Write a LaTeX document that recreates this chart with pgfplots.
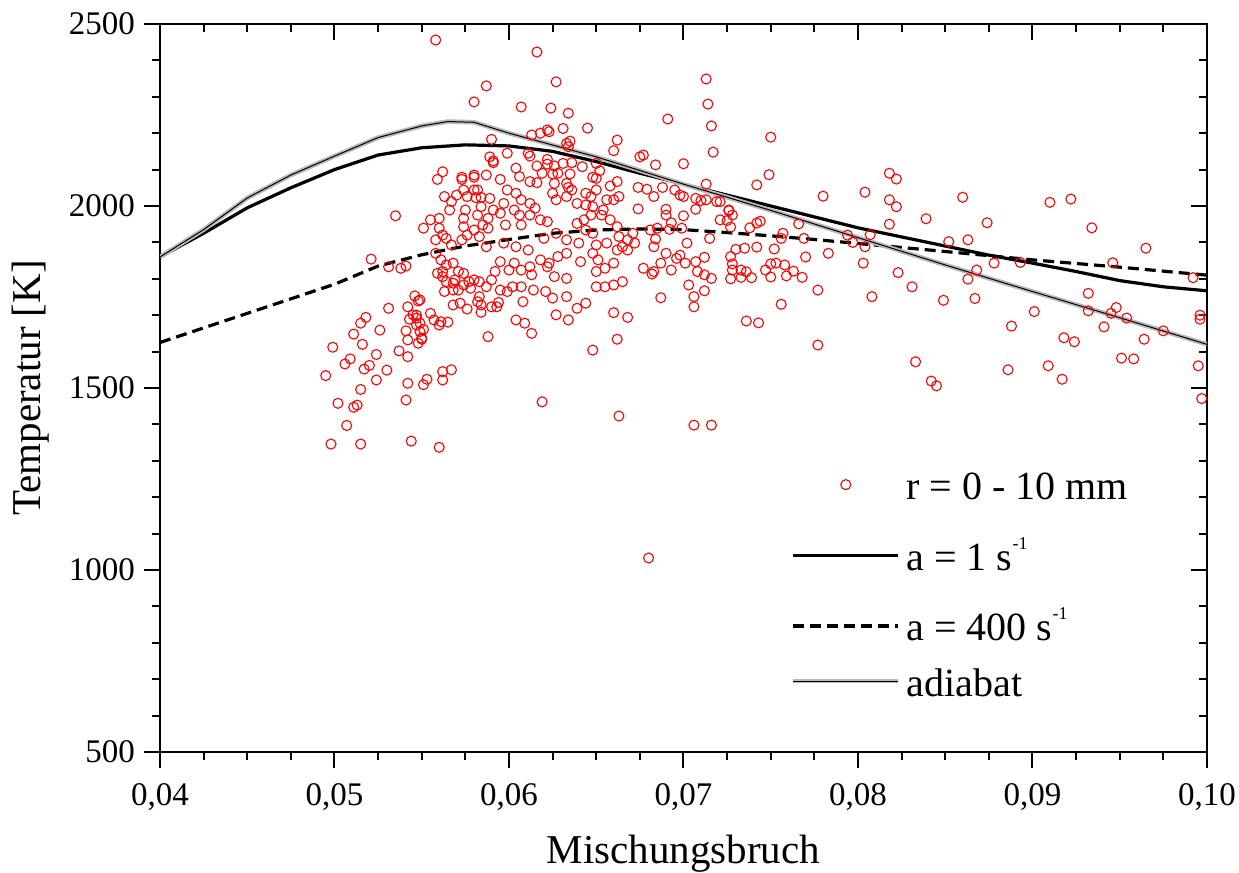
\documentclass[border=0pt]{standalone}
\usepackage{fontspec}
\setmainfont{Liberation Serif}
\usepackage{pgfplots}
\pgfplotsset{compat=1.18}
\pgfplotstableread{
x T
0.0558 2456
0.0616 2423
0.0627 2341
0.0587 2330
0.0713 2349
0.0714 2280
0.0580 2286
0.0624 2269
0.0607 2272
0.0634 2255
0.0716 2220
0.0691 2239
0.0645 2214
0.0750 2189
0.0622 2209
0.0618 2200
0.0613 2195
0.0631 2213
0.0623 2204
0.0662 2181
0.0590 2183
0.0717 2148
0.0635 2178
0.0675 2135
0.0677 2140
0.0700 2116
0.0684 2113
0.0749 2086
0.0742 2058
0.0713 2060
0.0660 2152
0.0633 2172
0.0634 2163
0.0599 2145
0.0611 2145
0.0612 2137
0.0589 2135
0.0591 2119
0.0591 2124
0.0580 2085
0.0580 2079
0.0573 2079
0.0573 2073
0.0562 2094
0.0559 2073
0.0587 2085
0.0595 2073
0.0604 2104
0.0606 2081
0.0616 2110
0.0622 2128
0.0622 2115
0.0626 2110
0.0631 2117
0.0636 2119
0.0642 2108
0.0650 2117
0.0652 2097
0.0648 2079
0.0650 2076
0.0619 2090
0.0625 2088
0.0628 2090
0.0635 2088
0.0612 2067
0.0616 2064
0.0626 2062
0.0633 2062
0.0636 2044
0.0634 2051
0.0644 2035
0.0650 2044
0.0647 2026
0.0658 2055
0.0662 2067
0.0660 2017
0.0663 2026
0.0656 2017
0.0674 2051
0.0679 2046
0.0683 2026
0.0688 2051
0.0695 2044
0.0698 2030
0.0700 2026
0.0674 1992
0.0707 2021
0.0710 2015
0.0713 2017
0.0719 2012
0.0726 1989
0.0728 1975
0.0721 1962
0.0725 1960
0.0707 1991
0.0690 1991
0.0690 1975
0.0693 1954
0.0700 1973
0.0692 1936
0.0699 1939
0.0685 1939
0.0681 1934
0.0702 1898
0.0684 1909
0.0683 1888
0.0690 1870
0.0696 1856
0.0698 1865
0.0671 1925
0.0672 1898
0.0668 1879
0.0665 1888
0.0677 1829
0.0682 1813
0.0683 1820
0.0687 1843
0.0693 1824
0.0701 1843
0.0707 1847
0.0712 1859
0.0708 1820
0.0712 1811
0.0716 1801
0.0703 1783
0.0706 1751
0.0706 1723
0.0712 1767
0.0687 1748
0.0715 1911
0.0563 2026
0.0567 2012
0.0566 1989
0.0570 2030
0.0574 2044
0.0576 2026
0.0580 2044
0.0581 2023
0.0584 2024
0.0589 2021
0.0575 1989
0.0574 1966
0.0574 1943
0.0576 1920
0.0573 1907
0.0555 1962
0.0560 1966
0.0551 1939
0.0560 1939
0.0562 1920
0.0558 1907
0.0564 1911
0.0567 1893
0.0558 1870
0.0561 1852
0.0564 1838
0.0562 1820
0.0562 1806
0.0559 1815
0.0564 1792
0.0568 1843
0.0571 1820
0.0574 1815
0.0569 1797
0.0568 1769
0.0571 1769
0.0574 1783
0.0577 1792
0.0578 1774
0.0580 1797
0.0583 1792
0.0583 1751
0.0584 1728
0.0582 1737
0.0587 1778
0.0590 1723
0.0593 1723
0.0595 1769
0.0599 1765
0.0602 1778
0.0607 1778
0.0614 1769
0.0621 1765
0.0625 1747
0.0633 1751
0.0639 1719
0.0644 1733
0.0608 1737
0.0613 1650
0.0604 1687
0.0609 1678
0.0588 1641
0.0627 1701
0.0634 1687
0.0660 1707
0.0668 1694
0.0648 1604
0.0662 1634
0.0619 1462
0.0663 1423
0.0706 1398
0.0716 1398
0.0680 1033
0.0591 1989
0.0588 1966
0.0588 1939
0.0595 1980
0.0598 1948
0.0603 1989
0.0606 1975
0.0607 1948
0.0612 2007
0.0615 1994
0.0612 1975
0.0618 1962
0.0622 1957
0.0620 1911
0.0627 1925
0.0633 1907
0.0639 1952
0.0643 1962
0.0647 1975
0.0654 1989
0.0653 1975
0.0658 1962
0.0662 1943
0.0597 1898
0.0604 1888
0.0611 1879
0.0587 1888
0.0595 1847
0.0603 1843
0.0607 1824
0.0612 1833
0.0618 1852
0.0623 1843
0.0628 1861
0.0633 1870
0.0592 1820
0.0590 1797
0.0600 1824
0.0613 1811
0.0622 1833
0.0626 1806
0.0633 1801
0.0641 1847
0.0648 1870
0.0651 1852
0.0655 1829
0.0660 1843
0.0662 1879
0.0650 1820
0.0650 1778
0.0655 1778
0.0660 1783
0.0665 1792
0.0644 1934
0.0648 1925
0.0640 1898
0.0650 1893
0.0656 1898
0.0663 1916
0.0668 1907
0.0625 2035
0.0627 2017
0.0633 2026
0.0639 2007
0.0644 2003
0.0648 1998
0.0599 2044
0.0604 2035
0.0607 2017
0.0597 2007
0.0582 2044
0.0584 1998
0.0582 1975
0.0585 1948
0.0580 1934
0.0583 1916
0.0499 1612
0.0495 1534
0.0506 1566
0.0509 1580
0.0511 1648
0.0515 1678
0.0518 1694
0.0516 1620
0.0526 1659
0.0531 1719
0.0524 1592
0.0517 1552
0.0520 1562
0.0530 1549
0.0524 1522
0.0515 1496
0.0502 1458
0.0511 1447
0.0513 1453
0.0507 1397
0.0498 1346
0.0515 1346
0.0544 1354
0.0560 1337
0.0541 1467
0.0542 1513
0.0551 1509
0.0553 1524
0.0562 1522
0.0562 1545
0.0567 1550
0.0537 1602
0.0542 1586
0.0541 1657
0.0542 1632
0.0548 1623
0.0550 1634
0.0549 1678
0.0551 1661
0.0547 1673
0.0543 1689
0.0547 1700
0.0542 1723
0.0546 1753
0.0548 1739
0.0555 1705
0.0557 1687
0.0560 1673
0.0561 1682
0.0565 1681
0.0568 1728
0.0572 1733
0.0576 1717
0.0584 1708
0.0594 1735
0.0563 1765
0.0568 1788
0.0535 1973
0.0521 1854
0.0531 1833
0.0538 1829
0.0541 1835
0.0545 1701
0.0547 1692
0.0549 1655
0.0550 1637
0.0549 1742
0.0780 2027
0.0804 2038
0.0818 2090
0.0822 2074
0.0818 2017
0.0822 1998
0.0818 1950
0.0860 2024
0.0839 1965
0.0852 1902
0.0863 1907
0.0868 1824
0.0863 1799
0.0867 1746
0.0849 1741
0.0831 1778
0.0823 1817
0.0808 1751
0.0803 1843
0.0804 1888
0.0807 1921
0.0794 1920
0.0797 1900
0.0783 1870
0.0777 1769
0.0777 1618
0.0833 1572
0.0842 1519
0.0845 1506
0.0770 1860
0.0769 1911
0.0766 1951
0.0757 1925
0.0756 1911
0.0752 1882
0.0750 1841
0.0753 1843
0.0758 1838
0.0763 1821
0.0768 1804
0.0759 1808
0.0750 1805
0.0747 1824
0.0742 1887
0.0735 1884
0.0730 1881
0.0727 1861
0.0728 1841
0.0728 1824
0.0733 1824
0.0736 1819
0.0739 1803
0.0733 1804
0.0727 1800
0.0756 1730
0.0736 1684
0.0743 1679
0.0744 1958
0.0742 1953
0.0738 1940
0.0726 1987
0.0727 1942
0.0721 2012
0.0874 1954
0.0910 2010
0.0922 2019
0.0934 1940
0.0965 1884
0.0946 1844
0.0893 1845
0.0878 1843
0.0992 1803
0.0932 1760
0.0932 1712
0.0945 1705
0.0948 1721
0.0954 1692
0.0941 1668
0.0975 1657
0.0964 1634
0.0996 1700
0.0996 1689
0.0901 1710
0.0888 1670
0.0918 1638
0.0924 1627
0.0951 1582
0.0958 1580
0.0995 1561
0.0886 1550
0.0909 1561
0.0917 1524
0.0997 1471
}\scatterdata
\pgfplotstableread{
x T
0.0400 1860
0.0425 1925
0.0450 1995
0.0475 2050
0.0500 2100
0.0525 2140
0.0550 2160
0.0575 2168
0.0600 2165
0.0625 2150
0.0650 2122
0.0675 2090
0.0700 2060
0.0725 2030
0.0750 2000
0.0775 1970
0.0800 1940
0.0825 1915
0.0850 1890
0.0875 1865
0.0900 1843
0.0925 1820
0.0950 1795
0.0975 1778
0.1000 1767
}\aone
\pgfplotstableread{
x T
0.0400 1625
0.0425 1665
0.0450 1705
0.0475 1745
0.0500 1785
0.0525 1835
0.0550 1866
0.0575 1890
0.0600 1908
0.0625 1925
0.0650 1934
0.0675 1937
0.0700 1935
0.0725 1927
0.0750 1918
0.0775 1908
0.0800 1897
0.0850 1875
0.0900 1852
0.0950 1832
0.1000 1810
}\afour
\pgfplotstableread{
x T
0.0400 1860
0.0425 1935
0.0450 2022
0.0475 2085
0.0500 2137
0.0525 2188
0.0550 2220
0.0565 2232
0.0580 2230
0.0600 2200
0.0650 2135
0.0700 2060
0.0750 1988
0.0800 1913
0.0850 1838
0.0900 1765
0.0950 1693
0.1000 1620
}\adiab
\begin{document}
\begin{tikzpicture}
% frame, ticks, tick labels and axis titles (drawn first)
\begin{axis}[
    scale only axis, width=523.5pt, height=364pt,
    xmin=0.04, xmax=0.10, ymin=500, ymax=2500,
    xtick={0.04,0.05,0.06,0.07,0.08,0.09,0.10},
    ytick={500,1000,1500,2000,2500},
    major tick length=8pt,
    tick align=outside, xtick pos=left, ytick pos=left,
    tick style={draw=none},
    axis line style={line width=1pt, black},
    /pgf/number format/assume math mode=true,
    tick label style={font=\fontsize{16.5}{18}\selectfont},
    x tick label style={/pgf/number format/.cd, fixed, fixed zerofill, precision=2, use comma, /tikz/.cd, inner sep=1pt, yshift=-6.5pt},
    y tick label style={/pgf/number format/.cd, 1000 sep={}, /tikz/.cd, xshift=-1pt},
    xlabel={Mischungsbruch}, ylabel={Temperatur [K]},
    every axis x label/.style={at={(axis description cs:0.5,-0.1538)}, anchor=base, inner sep=0pt, font=\fontsize{20.5}{24}\selectfont},
    every axis y label/.style={at={(axis description cs:-0.124,0.5)}, anchor=center, rotate=90, inner sep=0pt, font=\fontsize{20.5}{24}\selectfont},
    after end axis/.code={
      \foreach \xv in {0.04,0.05,0.06,0.07,0.08,0.09,0.10} {
        \draw[black, line width=1pt] (axis cs:\xv,500) -- ++(0pt,-8pt);
        \draw[black, line width=1pt] (axis cs:\xv,2500) -- ++(0pt,-8pt);
      }
      \foreach \xv in {0.0425,0.045,0.0475,0.0525,0.055,0.0575,0.0625,0.065,0.0675,0.0725,0.075,0.0775,0.0825,0.085,0.0875,0.0925,0.095,0.0975} {
        \draw[black, line width=1pt] (axis cs:\xv,500) -- ++(0pt,-4pt);
        \draw[black, line width=1pt] (axis cs:\xv,2500) -- ++(0pt,-4pt);
      }
      \foreach \yv in {500,1000,1500,2000,2500} {
        \draw[black, line width=1pt] (axis cs:0.04,\yv) -- ++(-8pt,0pt);
        \draw[black, line width=1pt] (axis cs:0.10,\yv) -- ++(-8pt,0pt);
      }
      \foreach \yv in {600,700,800,900,1100,1200,1300,1400,1600,1700,1800,1900,2100,2200,2300,2400} {
        \draw[black, line width=1pt] (axis cs:0.04,\yv) -- ++(-4pt,0pt);
        \draw[black, line width=1pt] (axis cs:0.10,\yv) -- ++(-4pt,0pt);
      }
    },
  ]
\end{axis}
% data
\begin{axis}[
    scale only axis, width=523.5pt, height=364pt,
    xmin=0.04, xmax=0.10, ymin=500, ymax=2500,
    axis lines=none, xtick=\empty, ytick=\empty,
    legend style={draw=none, fill=none, at={(axis description cs:0.6027,0.3832)}, anchor=north west,
      inner sep=0pt, outer sep=0pt, row sep=17.4pt, column sep=3pt, nodes={inner sep=0pt},
      cells={anchor=base west},
      font=\fontsize{20}{24}\selectfont},
    legend image code/.code={\draw[mark repeat=2,mark phase=2,#1] plot coordinates {(0pt,7.5pt) (26.25pt,7.5pt) (52.5pt,7.5pt)};},
  ]
\addplot[only marks, mark=o, mark size=2.5pt, color=red, mark options={line width=0.55pt}]
  table[x=x,y=T] {\scatterdata};
\addlegendentry{r = 0 - 10 mm}
\addplot[black, line width=1.6pt, mark=none]
  table[x=x,y=T] {\aone};
\addlegendentry{a = 1 s\raisebox{10.5pt}{\fontsize{9}{9}\selectfont -1}}
\addplot[black, line width=1.6pt, mark=none, dash pattern=on 5.5pt off 3pt]
  table[x=x,y=T] {\afour};
\addlegendentry{a = 400 s\raisebox{10.5pt}{\fontsize{9}{9}\selectfont -1}}
\addplot[draw=gray!55, line width=0.9pt, double=black, double distance=0.5pt, mark=none]
  table[x=x,y=T] {\adiab};
\addlegendentry{\raisebox{0pt}[8pt][0pt]{adiabat}}
\end{axis}
\path (-80pt,-60.5pt) rectangle (539.5pt,376pt);
\end{tikzpicture}
\end{document}
